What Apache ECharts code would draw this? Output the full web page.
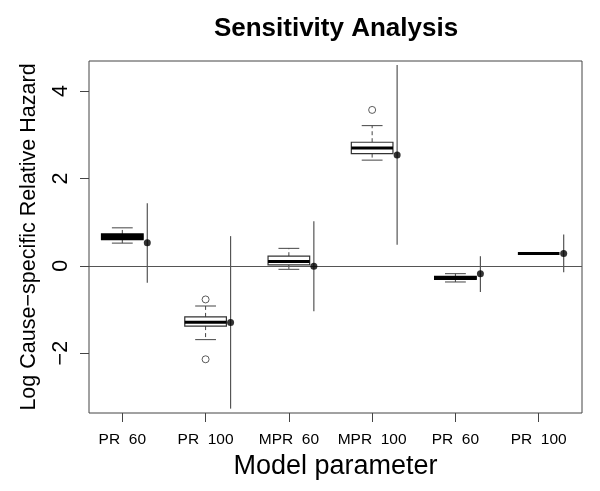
<!DOCTYPE html>
<html>
<head>
<meta charset="utf-8">
<script src="https://cdn.jsdelivr.net/npm/echarts@6/dist/echarts.min.js"></script>
<style>html,body{margin:0;padding:0;background:#fff}#c{width:600px;height:491px}</style>
</head>
<body>
<div id="c"></div>
<script>
const categories = ['PR  60', 'PR  100', 'MPR  60', 'MPR  100', 'PR  60', 'PR  100'];
const whiskerLow  = [0.52, -1.69, -0.08, 2.42, -0.37, 0.28];
const boxQ1       = [0.60, -1.38,  0.02, 2.57, -0.31, 0.28];
const boxMedian   = [0.66, -1.29,  0.10, 2.70, -0.27, 0.28];
const boxQ3       = [0.73, -1.17,  0.22, 2.83, -0.24, 0.28];
const whiskerHigh = [0.87, -0.92,  0.40, 3.21, -0.18, 0.28];
const outlierGroup = [2, 2, 4];
const outlierValue = [-0.77, -2.14, 3.57];
const estimate = [0.53, -1.30, -0.01, 2.54, -0.18, 0.28];
const ciLow    = [-0.39, -3.27, -1.04, 0.48, -0.60, -0.15];
const ciHigh   = [1.43, 0.68, 1.02, 4.60, 0.22, 0.72];
const yTicks = [-2, 0, 2, 4];
const xTicks = [1, 2, 3, 4, 5, 6];

const FONT = 'Liberation Sans, Arial, sans-serif';
const OFFSET = 0.3;

const boxData = categories.map((c, i) => [i + 1, whiskerLow[i], boxQ1[i], boxMedian[i], boxQ3[i], whiskerHigh[i]]);
const ciData = categories.map((c, i) => [i + 1 + OFFSET, ciLow[i], ciHigh[i]]);
const estData = categories.map((c, i) => [i + 1 + OFFSET, estimate[i]]);
const outData = outlierGroup.map((g, i) => [g, outlierValue[i]]);

function renderBox(params, api) {
  const x = api.value(0);
  const lo = api.coord([x, api.value(1)]);
  const q1 = api.coord([x, api.value(2)]);
  const md = api.coord([x, api.value(3)]);
  const q3 = api.coord([x, api.value(4)]);
  const hi = api.coord([x, api.value(5)]);
  const unit = api.size([1, 0])[0];
  const hw = unit * 0.25;
  const cw = hw / 2;
  const cx = md[0];
  const children = [];
  const h = q1[1] - q3[1];
  if (h > 0.5) {
    const dash = { stroke: '#444', lineWidth: 1, lineDash: [4, 3] };
    const solid = { stroke: '#444', lineWidth: 1 };
    children.push({ type: 'line', shape: { x1: cx, y1: q3[1], x2: cx, y2: hi[1] }, style: dash });
    children.push({ type: 'line', shape: { x1: cx, y1: q1[1], x2: cx, y2: lo[1] }, style: dash });
    children.push({ type: 'line', shape: { x1: cx - cw, y1: hi[1], x2: cx + cw, y2: hi[1] }, style: solid });
    children.push({ type: 'line', shape: { x1: cx - cw, y1: lo[1], x2: cx + cw, y2: lo[1] }, style: solid });
    const dense = h < 7;
    children.push({ type: 'rect', shape: { x: cx - hw, y: q3[1], width: hw * 2, height: h },
      style: { fill: dense ? '#000' : '#fff', stroke: dense ? '#000' : '#333', lineWidth: 1.2 } });
  }
  children.push({ type: 'line', shape: { x1: cx - hw, y1: md[1], x2: cx + hw, y2: md[1] },
    style: { stroke: '#000', lineWidth: 3 } });
  return { type: 'group', children };
}

function renderCI(params, api) {
  const x = api.value(0);
  const a = api.coord([x, api.value(1)]);
  const b = api.coord([x, api.value(2)]);
  return { type: 'line', shape: { x1: a[0], y1: a[1], x2: b[0], y2: b[1] },
    style: { stroke: '#555', lineWidth: 1.2 } };
}

const chart = echarts.init(document.getElementById('c'), null, { renderer: 'canvas' });
chart.setOption({
  animation: false,
  backgroundColor: '#fff',
  textStyle: { fontFamily: FONT },
  grid: { left: 89, right: 18, top: 61, bottom: 78, show: true, borderColor: '#444', borderWidth: 1, backgroundColor: 'transparent' },
  graphic: [
    { type: 'text', x: 336, y: 29, style: { text: 'Sensitivity Analysis', font: 'bold 26px ' + FONT, fill: '#000', textAlign: 'center', textVerticalAlign: 'middle' } }
  ],
  xAxis: {
    type: 'value', min: 0.6, max: 6.52,
    axisLine: { show: false, onZero: false },
    splitLine: { show: false },
    axisTick: { show: true, inside: false, length: 9, lineStyle: { color: '#444' }, customValues: xTicks },
    axisLabel: { show: true, fontSize: 15.5, color: '#000', margin: 19, fontFamily: FONT, customValues: xTicks,
      formatter: v => categories[Math.round(v) - 1] || '' },
    name: 'Model parameter', nameLocation: 'middle', nameGap: 35,
    nameTextStyle: { fontSize: 27, color: '#000', fontFamily: FONT }
  },
  yAxis: {
    type: 'value', min: -3.37, max: 4.69,
    axisLine: { show: false, onZero: false },
    splitLine: { show: false },
    axisTick: { show: true, inside: false, length: 9, lineStyle: { color: '#444' }, customValues: yTicks },
    axisLabel: { show: true, fontSize: 21.5, color: '#000', margin: 17, rotate: 90, fontFamily: FONT, customValues: yTicks,
      formatter: v => String(v).replace('-', '\u2212') },
    name: 'Log Cause\u2212specific Relative Hazard', nameLocation: 'middle', nameGap: 49, nameRotate: 90,
    nameTextStyle: { fontSize: 21.5, color: '#000', fontFamily: FONT }
  },
  series: [
    {
      type: 'line', data: [], silent: true,
      markLine: { silent: true, symbol: 'none', label: { show: false },
        lineStyle: { color: '#555', width: 1.2, type: 'solid' }, data: [{ yAxis: 0 }] }
    },
    { type: 'custom', renderItem: renderBox, data: boxData, encode: { x: 0, y: [1, 2, 3, 4, 5] }, z: 3 },
    { type: 'scatter', data: outData, symbol: 'circle', symbolSize: 7,
      itemStyle: { color: '#fff', borderColor: '#333', borderWidth: 1 }, z: 4 },
    { type: 'custom', renderItem: renderCI, data: ciData, encode: { x: 0, y: [1, 2] }, z: 4 },
    { type: 'scatter', data: estData, symbol: 'circle', symbolSize: 7,
      itemStyle: { color: '#000' }, z: 5 }
  ]
});
</script>
</body>
</html>
